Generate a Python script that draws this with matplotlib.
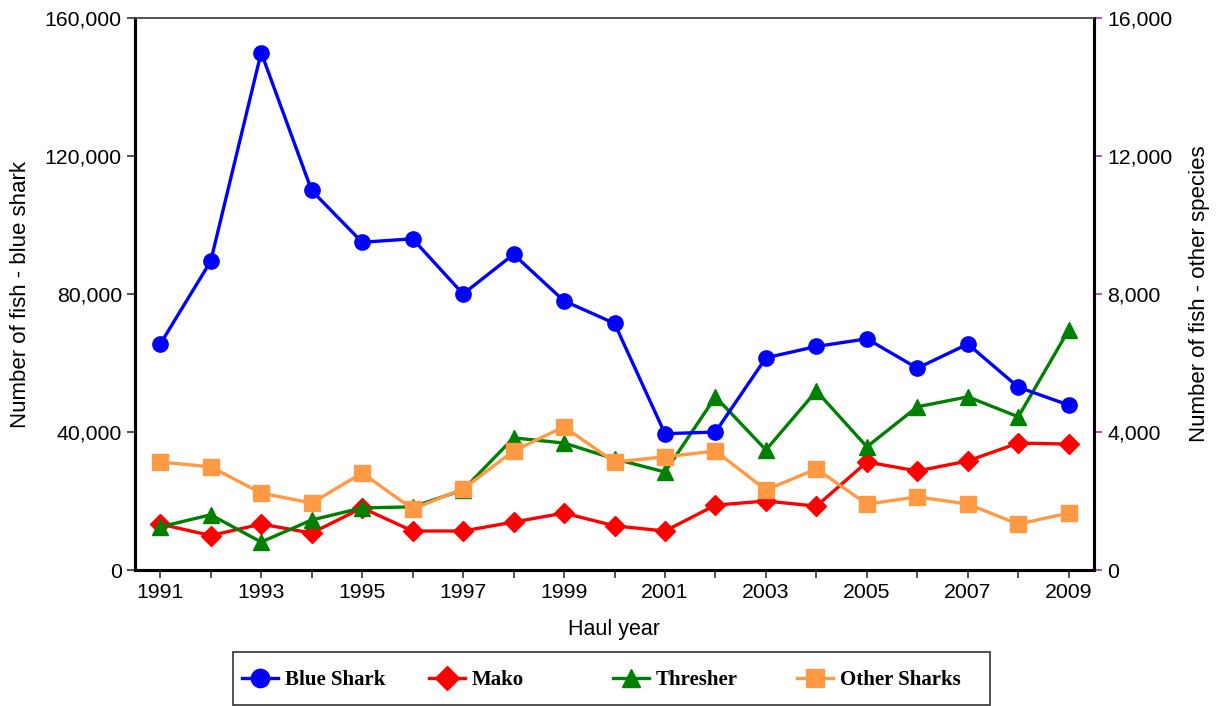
import matplotlib.pyplot as plt
from matplotlib.patches import Rectangle
from matplotlib.ticker import FuncFormatter, MultipleLocator

years = list(range(1991, 2010))

# left axis
blue_shark = [65500, 89500, 150000, 110000, 95000, 96000, 80000, 91500, 78000, 71500,
              39500, 40000, 61500, 64800, 67000, 58500, 65500, 53000, 47800]
# right axis
mako = [1330, 1000, 1330, 1070, 1800, 1130, 1130, 1390, 1650, 1280,
        1130, 1880, 2000, 1850, 3130, 2870, 3160, 3680, 3650]
thresher = [1250, 1600, 810, 1450, 1800, 1830, 2320, 3830, 3680, 3220,
            2840, 5020, 3480, 5190, 3570, 4730, 5020, 4440, 6960]
other_sharks = [3130, 2990, 2230, 1940, 2810, 1770, 2350, 3450, 4150, 3130,
                3280, 3450, 2320, 2930, 1910, 2120, 1910, 1330, 1650]

names = ["Blue Shark", "Mako", "Thresher", "Other Sharks"]

plt.rcParams["font.family"] = ["Liberation Sans", "DejaVu Sans"]

W, H = 1222, 706
fig = plt.figure(figsize=(W / 100, H / 100), dpi=100)
ax = fig.add_axes([135 / W, 1 - 570 / H, (1094 - 135) / W, (570 - 18) / H])
ax2 = ax.twinx()

comma = FuncFormatter(lambda v, p: f"{int(v):,}")

l1, = ax.plot(years, blue_shark, color="#0000FF", lw=2.4, marker="o", ms=11, zorder=3)
l2, = ax2.plot(years, mako, color="#FF0000", lw=2.4, marker="D", ms=10)
l3, = ax2.plot(years, thresher, color="#008000", lw=2.4, marker="^", ms=11)
l4, = ax2.plot(years, other_sharks, color="#FF9944", lw=2.4, marker="s", ms=11)
ax.set_zorder(ax2.get_zorder() + 1)
ax.patch.set_visible(False)

ax.set_xlim(1990.5, 2009.5)
ax.set_ylim(0, 160000)
ax2.set_ylim(0, 16000)
ax.set_yticks(range(0, 160001, 40000))
ax2.set_yticks(range(0, 16001, 4000))
ax.yaxis.set_major_formatter(comma)
ax2.yaxis.set_major_formatter(comma)
ax.set_xticks(years[::2])
ax.xaxis.set_minor_locator(MultipleLocator(1))

for a in (ax, ax2):
    for s in ("left", "bottom", "right"):
        a.spines[s].set_linewidth(2.2)
        a.spines[s].set_color("black")
    a.spines["top"].set_color("#555555")
    a.spines["top"].set_linewidth(1.2)

ax.tick_params(axis="both", which="major", labelsize=15.3, length=6, width=1.2, color="#333333")
ax.tick_params(axis="x", which="minor", length=6, width=1.2, color="#333333")
ax2.tick_params(axis="y", labelsize=15.3, length=6, width=1.2, color="#9933CC")

ax.set_xlabel("Haul year", fontsize=15.5, labelpad=12)
ax.set_ylabel("Number of fish - blue shark", fontsize=16, labelpad=10)
ax2.set_ylabel("Number of fish - other species", fontsize=16, labelpad=12)

# legend: framed box with evenly spaced entries
fig.add_artist(Rectangle((233 / W, 1 - 705 / H), (990 - 233) / W, (705 - 652) / H,
                         transform=fig.transFigure, facecolor="white",
                         edgecolor="#333333", lw=1.2, zorder=1))
for handle, name, x0 in zip([l1, l2, l3, l4], names, [242, 429, 613, 797]):
    leg = fig.legend([handle], [name], loc="center left",
                     bbox_to_anchor=(x0 / W, 1 - 680 / H),
                     prop={"family": "Liberation Serif", "weight": "bold", "size": 15},
                     frameon=False, borderpad=0, borderaxespad=0, markerscale=1.2,
                     handlelength=1.75, handletextpad=0.3)
    leg.set_zorder(2)

fig.savefig("out.png", dpi=100)
